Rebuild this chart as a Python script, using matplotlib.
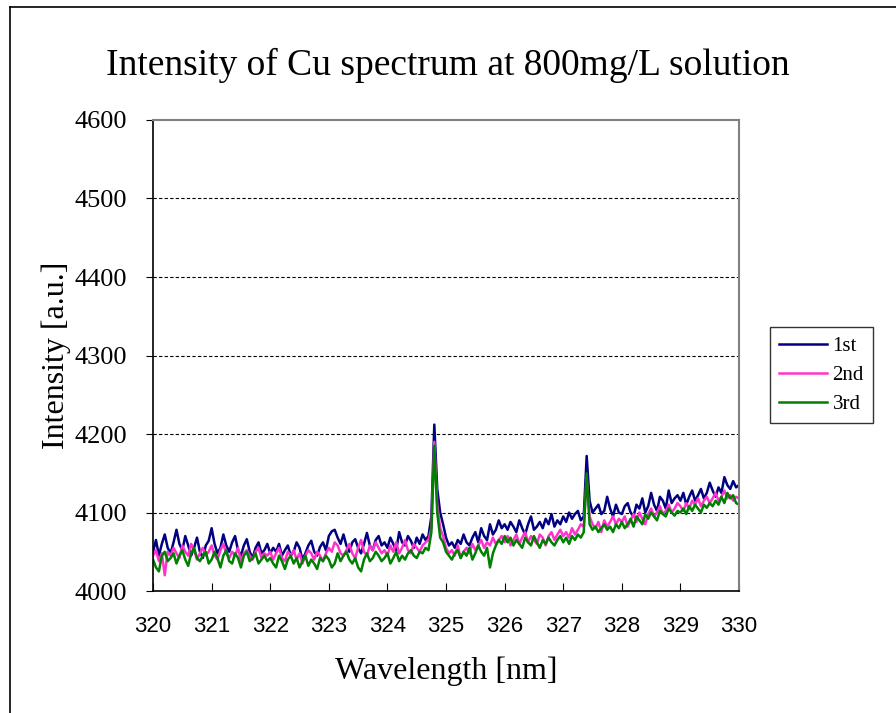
import numpy as np
import matplotlib
matplotlib.use('Agg')
import matplotlib.pyplot as plt
from matplotlib.lines import Line2D

# wavelength grid, 0.05 nm step
wavelength = np.round(np.arange(320.0, 330.0001, 0.05), 2)

first = [
    4050, 4065, 4045, 4060, 4072, 4055, 4048, 4062, 4078, 4060, 4052, 4070, 4058, 4045, 4055, 4068, 4050, 4042, 4058, 4064,
    4080, 4060, 4048, 4055, 4072, 4058, 4050, 4062, 4070, 4052, 4045, 4058, 4066, 4050, 4042, 4055, 4062, 4048, 4052, 4060,
    4048, 4055, 4050, 4060, 4045, 4052, 4058, 4045, 4050, 4062, 4055, 4040, 4048, 4058, 4064, 4050, 4045, 4056, 4062, 4052,
    4070, 4076, 4078, 4068, 4060, 4072, 4058, 4050, 4062, 4066, 4055, 4048, 4060, 4074, 4058, 4052, 4065, 4070, 4058, 4062,
    4055, 4068, 4060, 4052, 4075, 4062, 4058, 4070, 4064, 4055, 4068, 4060, 4072, 4065, 4070, 4095, 4212, 4130, 4100, 4085,
    4068, 4058, 4062, 4055, 4065, 4060, 4072, 4062, 4058, 4068, 4075, 4062, 4080, 4070, 4065, 4085, 4072, 4078, 4090, 4080,
    4085, 4078, 4088, 4082, 4075, 4090, 4080, 4072, 4085, 4095, 4078, 4082, 4088, 4080, 4092, 4085, 4098, 4082, 4090, 4085,
    4095, 4088, 4100, 4092, 4098, 4102, 4090, 4095, 4172, 4115, 4100, 4105, 4110, 4098, 4102, 4120, 4105, 4095, 4110, 4100,
    4098, 4108, 4112, 4100, 4095, 4110, 4105, 4118, 4100, 4108, 4125, 4110, 4102, 4120, 4115, 4105, 4128, 4112, 4118, 4122,
    4115, 4125, 4110, 4120, 4128, 4115, 4122, 4130, 4118, 4125, 4138, 4128, 4120, 4132, 4125, 4145, 4135, 4130, 4140, 4132,
    4135,
]

second = [
    4045, 4052, 4038, 4048, 4020, 4050, 4045, 4055, 4048, 4042, 4058, 4050, 4045, 4060, 4052, 4040, 4048, 4055, 4045, 4050,
    4058, 4045, 4040, 4052, 4060, 4048, 4042, 4050, 4045, 4055, 4038, 4048, 4052, 4045, 4040, 4050, 4055, 4042, 4048, 4045,
    4050, 4040, 4048, 4055, 4042, 4038, 4050, 4045, 4052, 4040, 4048, 4035, 4045, 4052, 4048, 4040, 4050, 4045, 4038, 4048,
    4055, 4050, 4062, 4058, 4048, 4045, 4052, 4060, 4048, 4042, 4055, 4065, 4050, 4045, 4058, 4052, 4062, 4055, 4048, 4052,
    4045, 4058, 4050, 4062, 4048, 4055, 4065, 4052, 4048, 4060, 4055, 4050, 4058, 4062, 4065, 4080, 4190, 4110, 4080, 4070,
    4055, 4048, 4052, 4045, 4058, 4042, 4050, 4055, 4048, 4060, 4052, 4058, 4065, 4055, 4062, 4058, 4068, 4060, 4065, 4070,
    4062, 4070, 4058, 4065, 4072, 4060, 4068, 4075, 4062, 4070, 4065, 4060, 4072, 4068, 4058, 4070, 4075, 4065, 4072, 4078,
    4070, 4075, 4068, 4080, 4072, 4078, 4085, 4082, 4145, 4095, 4085, 4080, 4088, 4075, 4090, 4082, 4088, 4095, 4085, 4092,
    4088, 4095, 4082, 4090, 4098, 4088, 4100, 4092, 4085, 4098, 4105, 4095, 4100, 4108, 4098, 4102, 4110, 4100, 4105, 4112,
    4108, 4102, 4112, 4105, 4115, 4110, 4118, 4108, 4115, 4120, 4112, 4118, 4125, 4115, 4120, 4128, 4118, 4122, 4115, 4120,
    4118,
]

third = [
    4040, 4030, 4025, 4045, 4050, 4038, 4042, 4048, 4035, 4045, 4052, 4040, 4032, 4048, 4055, 4042, 4038, 4045, 4050, 4035,
    4040, 4050, 4042, 4030, 4045, 4052, 4038, 4035, 4048, 4042, 4030, 4045, 4050, 4038, 4042, 4048, 4035, 4040, 4045, 4038,
    4042, 4035, 4030, 4045, 4038, 4028, 4040, 4045, 4035, 4042, 4030, 4038, 4045, 4032, 4040, 4035, 4028, 4042, 4038, 4045,
    4040, 4030, 4035, 4048, 4038, 4045, 4050, 4040, 4035, 4042, 4030, 4025, 4040, 4048, 4038, 4042, 4050, 4045, 4038, 4042,
    4048, 4035, 4042, 4050, 4038, 4045, 4040, 4048, 4052, 4045, 4042, 4050, 4048, 4055, 4052, 4075, 4185, 4100, 4068, 4062,
    4050, 4045, 4040, 4048, 4052, 4042, 4050, 4045, 4055, 4040, 4048, 4058, 4050, 4045, 4055, 4030, 4048, 4058, 4065, 4060,
    4070, 4062, 4068, 4058, 4065, 4060, 4055, 4068, 4062, 4058, 4070, 4062, 4055, 4065, 4060, 4068, 4062, 4058, 4065, 4070,
    4062, 4068, 4060, 4070, 4065, 4072, 4068, 4075, 4150, 4085, 4078, 4082, 4075, 4080, 4085, 4078, 4082, 4075, 4085, 4080,
    4088, 4080, 4085, 4092, 4082, 4095, 4090, 4085, 4098, 4092, 4100, 4095, 4090, 4102, 4098, 4095, 4105, 4100, 4096, 4102,
    4100, 4105, 4098, 4108, 4102, 4110, 4105, 4100, 4110, 4106, 4112, 4108, 4115, 4110, 4120, 4112, 4125, 4118, 4122, 4112,
    4110,
]

labels = ['1st', '2nd', '3rd']
colors = ['#000080', '#FF33CC', '#008000']
x_ticks = list(range(320, 331))
y_ticks = list(range(4000, 4601, 100))

serif = 'Liberation Serif'

fig = plt.figure(figsize=(8.96, 7.13), dpi=100)
ax = fig.add_axes([0.1708, 0.1711, 0.654, 0.6606])

for ys, lab, c in zip([first, second, third], labels, colors):
    ax.plot(wavelength, ys, color=c, lw=1.8, label=lab)

ax.set_xlim(320, 330)
ax.set_ylim(4000, 4600)
ax.set_xticks(x_ticks)
ax.set_yticks(y_ticks)
ax.set_xticklabels([str(t) for t in x_ticks], fontfamily='Liberation Sans', fontsize=16)
ax.set_yticklabels([str(t) for t in y_ticks], fontfamily=serif, fontsize=19)
ax.tick_params(axis='x', direction='in', length=6, pad=18)
ax.tick_params(axis='y', direction='out', length=5, pad=14)

for v in y_ticks[1:-1]:
    ax.axhline(v, color='black', lw=0.8, ls=(0, (3, 2)), zorder=0)

for s in ['top', 'right']:
    ax.spines[s].set_color('#808080')
    ax.spines[s].set_linewidth(1.5)
for s in ['left', 'bottom']:
    ax.spines[s].set_color('black')
    ax.spines[s].set_linewidth(1.2)

ax.set_xlabel('Wavelength [nm]', fontfamily=serif, fontsize=23, labelpad=14)
ax.set_ylabel('Intensity [a.u.]', fontfamily=serif, fontsize=23, labelpad=2)
fig.text(0.5, 0.908, 'Intensity of Cu spectrum at 800mg/L solution', ha='center', va='center',
         fontfamily=serif, fontsize=27)

leg = ax.legend(loc='upper left', bbox_to_anchor=(770 / 896, 1 - 327 / 713), bbox_transform=fig.transFigure,
                prop={'family': serif, 'size': 15}, frameon=True, fancybox=False, handlelength=2.3,
                handletextpad=0.25, borderpad=0.45, labelspacing=0.45, borderaxespad=0)
leg.get_frame().set_edgecolor('black')
leg.get_frame().set_linewidth(1.0)

# outer frame (top and left edges only)
fig.add_artist(Line2D([10 / 896, 1], [1 - 7 / 713, 1 - 7 / 713], color='black', lw=1.2, transform=fig.transFigure))
fig.add_artist(Line2D([10 / 896, 10 / 896], [0, 1 - 7 / 713], color='black', lw=1.2, transform=fig.transFigure))

fig.savefig('out.png', dpi=100)
